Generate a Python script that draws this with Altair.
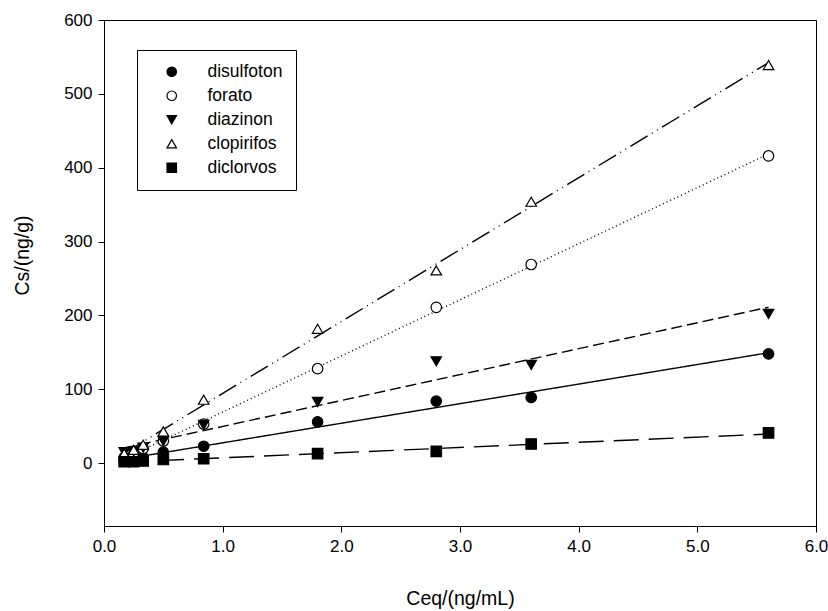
import altair as alt
import pandas as pd

series_names = ["disulfoton", "forato", "diazinon", "clopirifos", "diclorvos"]
ceq = [0.17, 0.25, 0.33, 0.5, 0.84, 1.8, 2.8, 3.6, 5.6]
disulfoton = [3, 5, 8, 15, 23, 56, 84, 89, 148]
forato = [8, 12, 20, 30, 53, 128, 211, 269, 416]
diazinon = [15, 16, 21, 30, 52, 83, 138, 133, 202]
clopirifos = [13, 18, 25, 43, 86, 182, 261, 354, 539]
diclorvos = [2, 2, 3, 5, 6, 13, 16, 26, 41]

values = [disulfoton, forato, diazinon, clopirifos, diclorvos]
rows = []
for name, ys in zip(series_names, values):
    for x, y in zip(ceq, ys):
        rows.append({"series": name, "x": x, "y": y})
df = pd.DataFrame(rows)

shapes = ["circle", "circle", "triangle-down", "triangle-up", "square"]
fills = ["black", "white", "black", "white", "black"]
strokes = ["black"] * 5
dashes = [[1, 0], [1, 3], [11, 5], [20, 5, 1, 5, 1, 5], [25, 10]]

xscale = alt.Scale(domain=[0, 6], nice=False, zero=False)
yscale = alt.Scale(domain=[-85, 600], nice=False, zero=False)

xaxis = alt.Axis(values=[0, 1, 2, 3, 4, 5, 6], format=".1f", grid=False, labelFlush=False,
                 title="Ceq/(ng/mL)", titleY=72, titleBaseline="middle")
yaxis = alt.Axis(values=[0, 100, 200, 300, 400, 500, 600], format="d", grid=False, labelFlush=False,
                 title="Cs/(ng/g)", titleX=-82, titleY=235, titleAngle=-90,
                 titleAlign="center", titleBaseline="middle")

legend = alt.Legend(title=None, orient="none", legendX=33, legendY=30,
                    padding=13, symbolOffset=13, strokeColor="black",
                    fillColor="white", labelFontSize=17.5, labelFont="Liberation Sans",
                    labelColor="black",
                    symbolSize=90, rowPadding=5, labelOffset=27,
                    symbolStrokeWidth=1.2)

lines = alt.Chart(df).transform_regression(
    "x", "y", groupby=["series"], method="linear"
).mark_line(color="black", strokeWidth=1.4).encode(
    x=alt.X("x:Q", scale=xscale, axis=xaxis),
    y=alt.Y("y:Q", scale=yscale, axis=yaxis),
    strokeDash=alt.StrokeDash("series:N", scale=alt.Scale(domain=series_names, range=dashes), legend=None),
    detail="series:N",
)

points = alt.Chart(df).mark_point(size=110, strokeWidth=1.2, opacity=1, filled=False).encode(
    x=alt.X("x:Q", scale=xscale),
    y=alt.Y("y:Q", scale=yscale),
    shape=alt.Shape("series:N", scale=alt.Scale(domain=series_names, range=shapes), legend=legend),
    fill=alt.Fill("series:N", scale=alt.Scale(domain=series_names, range=fills), legend=legend),
    stroke=alt.Stroke("series:N", scale=alt.Scale(domain=series_names, range=strokes), legend=legend),
)

chart = alt.layer(lines, points).resolve_legend(strokeDash="independent").properties(
    width=712, height=506,
    autosize=alt.AutoSizeParams(type="none"),
    padding={"left": 104, "top": 20, "right": 12, "bottom": 85},
).configure_view(stroke="black", strokeWidth=1).configure_axis(
    labelFont="Liberation Sans", titleFont="Liberation Sans",
    labelFontSize=17, titleFontSize=19.5, titleFontWeight="normal",
    labelColor="black", titleColor="black",
    domainColor="black", domainWidth=1, tickColor="black", tickSize=6, labelPadding=6,
)

chart.save("out.html", embed_options={"renderer": "svg", "actions": False})
